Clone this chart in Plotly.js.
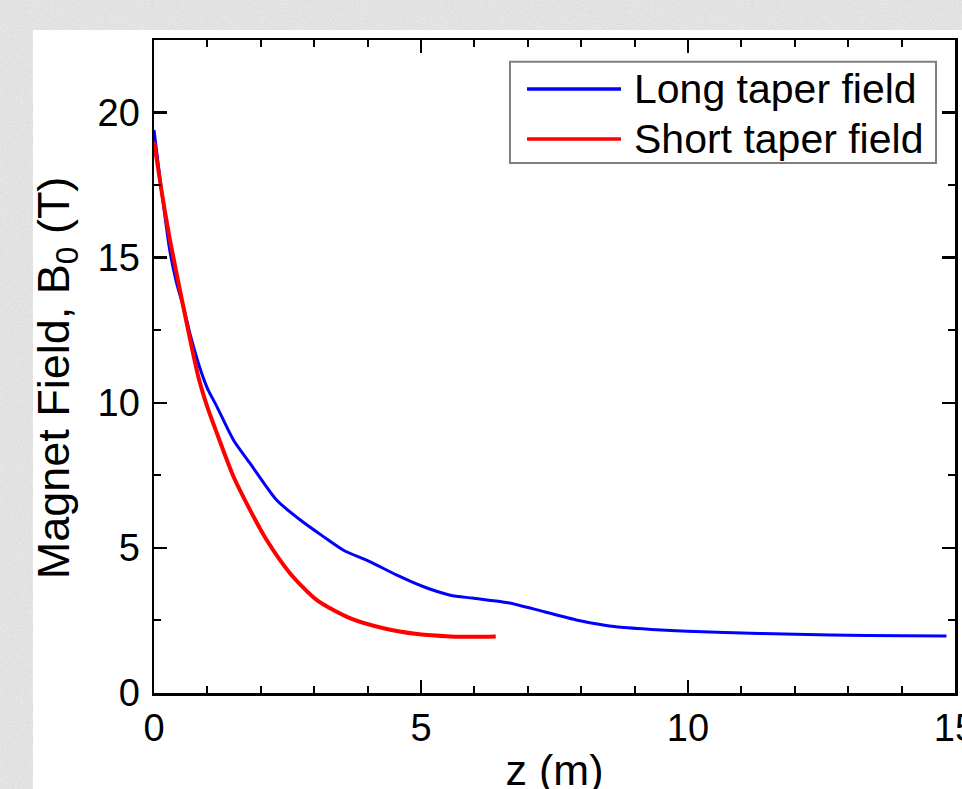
<!DOCTYPE html>
<html>
<head>
<meta charset="utf-8">
<script src="https://cdn.plot.ly/plotly-3.0.1.min.js"></script>
<style>
html, body { margin:0; padding:0; width:962px; height:789px; overflow:hidden; }
body {
  background-color:#d6d6d6;
  background-image:url("data:image/svg+xml;utf8,<svg xmlns='http://www.w3.org/2000/svg' width='300' height='300'><filter id='n'><feTurbulence type='fractalNoise' baseFrequency='0.9' numOctaves='3' stitchTiles='stitch'/><feColorMatrix type='matrix' values='0 0 0 0 1  0 0 0 0 1  0 0 0 0 1  0 0 0 0.6 0'/></filter><rect width='300' height='300' filter='url(%23n)'/></svg>");
}
#panel { position:absolute; left:33px; top:30px; width:1000px; height:800px; background:#ffffff; }
</style>
</head>
<body>
<div id="panel"></div>
<script>
// Long taper field
const blueZ = [0, 0.1, 0.2, 0.3, 0.42, 0.55, 0.7, 0.86, 1.0, 1.18, 1.49, 1.8, 2.05, 2.3, 2.74, 3.18, 3.55, 4.05, 4.55, 5.05, 5.55, 5.96, 6.63, 7.31, 7.98, 8.65, 9.32, 9.99, 11.34, 12.68, 14.03, 14.84];
const blueB = [19.4, 17.9, 16.5, 15.2, 14.15, 13.3, 12.2, 11.2, 10.5, 9.86, 8.71, 7.91, 7.25, 6.64, 5.96, 5.38, 4.92, 4.52, 4.06, 3.66, 3.37, 3.27, 3.11, 2.80, 2.49, 2.28, 2.19, 2.13, 2.05, 2.00, 1.97, 1.96];
// Short taper field
const redZ = [0, 0.15, 0.3, 0.55, 0.83, 1.0, 1.18, 1.49, 1.8, 2.11, 2.55, 3.05, 3.68, 4.3, 4.93, 5.55, 6.0, 6.4];
const redB = [19.0, 17.2, 15.6, 13.3, 10.9, 9.85, 8.94, 7.45, 6.30, 5.27, 4.12, 3.20, 2.57, 2.23, 2.03, 1.95, 1.94, 1.95];

const seriesNames = ["Long taper field", "Short taper field"];
const seriesColors = ["#0000ff", "#ff0000"];
const xTitle = "z (m)";
const yTitle = "Magnet Field, B<sub>0</sub> (T)";

const FONT = "Liberation Sans, Arial, sans-serif";

const traces = [
  {x: blueZ, y: blueB, mode: "lines", name: seriesNames[0],
   line: {color: seriesColors[0], width: 3, shape: "spline", smoothing: 0.7}, showlegend: false},
  {x: redZ, y: redB, mode: "lines", name: seriesNames[1],
   line: {color: seriesColors[1], width: 4, shape: "spline", smoothing: 0.7}, showlegend: false}
];

const axisCommon = {
  showline: true, linecolor: "#000", linewidth: 2.5, mirror: "ticks",
  ticks: "inside", ticklen: 13, tickwidth: 2.5, tickcolor: "#000",
  showgrid: false, zeroline: false,
  tickfont: {family: FONT, size: 38, color: "#000"},
};

// custom legend geometry (paper coords)
const lgX0 = 0.4444, lgX1 = 0.9763, lgY0 = 0.8116, lgY1 = 0.9668;
const rowY = [0.9250, 0.8484];
const lineX0 = 0.4657, lineX1 = 0.5830, textX = 0.597;

const shapes = [
  {type: "rect", xref: "paper", yref: "paper", x0: lgX0, x1: lgX1, y0: lgY0, y1: lgY1,
   line: {color: "#808080", width: 2}, fillcolor: "rgba(255,255,255,1)", layer: "above"}
];
const annotations = [];
seriesNames.forEach((n, i) => {
  shapes.push({type: "line", xref: "paper", yref: "paper", x0: lineX0, x1: lineX1, y0: rowY[i], y1: rowY[i],
    line: {color: seriesColors[i], width: 3.5}, layer: "above"});
  annotations.push({xref: "paper", yref: "paper", x: textX, y: rowY[i], xanchor: "left", yanchor: "middle",
    text: n, showarrow: false, font: {family: FONT, size: 41, color: "#000"}});
});
// y-axis title
annotations.push({xref: "paper", yref: "paper", x: -0.1223, y: 0.482, xanchor: "center", yanchor: "middle",
  textangle: -90, text: yTitle, showarrow: false, font: {family: FONT, size: 45, color: "#000"}});

const layout = {
  width: 1000, height: 800,
  margin: {l: 121, r: 78, t: 10, b: 137},
  paper_bgcolor: "#ffffff", plot_bgcolor: "#ffffff",
  showlegend: false,
  xaxis: Object.assign({}, axisCommon, {
    range: [0, 15], tick0: 0, dtick: 5, ticklabelstandoff: 0,
    minor: {dtick: 1, ticks: "inside", ticklen: 7, tickwidth: 2, tickcolor: "#000"},
    title: {text: xTitle, font: {family: FONT, size: 43, color: "#000"}, standoff: 7}
  }),
  yaxis: Object.assign({}, axisCommon, {
    range: [0, 22.5], tick0: 0, dtick: 5, ticklabelstandoff: 4,
    minor: {dtick: 2.5, ticks: "inside", ticklen: 7, tickwidth: 2, tickcolor: "#000"}
  }),
  shapes: shapes,
  annotations: annotations
};

Plotly.newPlot("panel", traces, layout, {staticPlot: true, displayModeBar: false});
</script>
</body>
</html>
